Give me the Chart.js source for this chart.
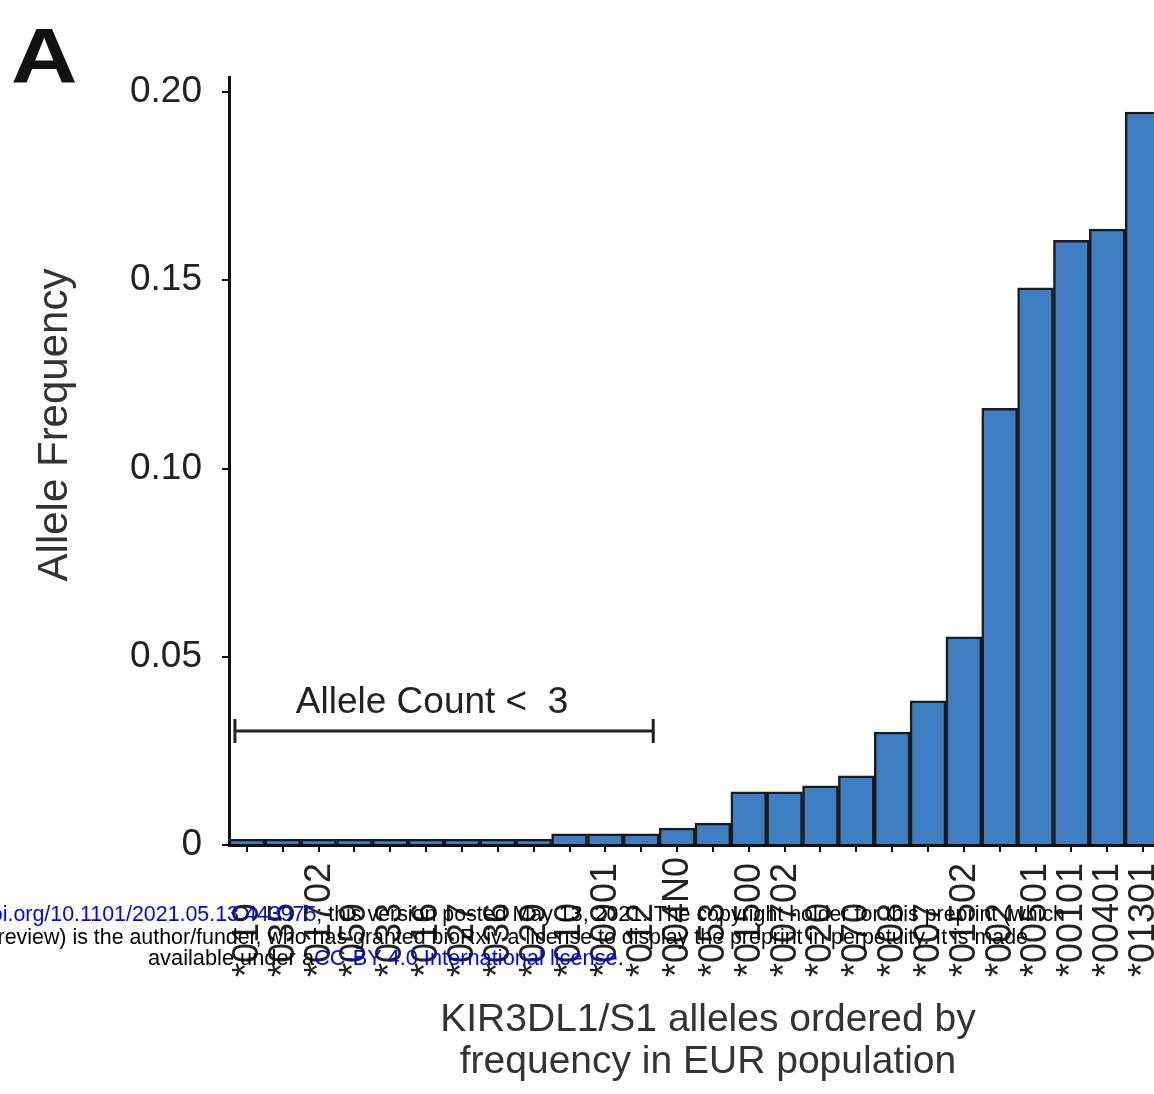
<!DOCTYPE html>
<html><head><meta charset="utf-8">
<script src="https://cdn.jsdelivr.net/npm/chart.js@4.4.1/dist/chart.umd.min.js"></script>
<style>
html,body{margin:0;padding:0;background:#fff;}
#wrap{position:relative;width:1154px;height:1094px;overflow:hidden;background:#fff;}
#c{position:absolute;left:0;top:0;}
.wm{position:absolute;white-space:nowrap;font-family:"Liberation Sans",Arial,sans-serif;font-size:21.4px;line-height:22px;color:#000;}
.wm .b{color:#0000ff;}
</style></head>
<body>
<div id="wrap">
<canvas id="c" width="1164" height="1094"></canvas>
<div class="wm" style="right:89px;top:902.5px">bioRxiv preprint doi: <span class="b">https://doi.org/10.1101/2021.05.13.443975</span>; this version posted May 13, 2021. The copyright holder for this preprint (which</div>
<div class="wm" style="right:126px;top:925.5px">was not certified by peer review) is the author/funder, who has granted bioRxiv a license to display the preprint in perpetuity. It is made</div>
<div class="wm" style="left:148px;top:946.5px;font-size:21.8px">available under a<span class="b">CC-BY 4.0 International license</span>.</div>
</div>
<script>
// ---- data ----
const alleleLabels = ["*019","*035","*01702","*059","*033","*016","*027","*036","*029",
  "*010","*00901","*012","*004N0","*053","*01500","*00702","*020","*070","*008",
  "*007","*01502","*002","*00501","*00101","*00401","*01301"];
const alleleFrequency = [0.0015,0.0015,0.0015,0.0015,0.0015,0.0015,0.0015,0.0015,0.0015,
  0.003,0.003,0.003,0.0045,0.0058,0.0141,0.0141,0.0157,0.0184,0.030,
  0.0383,0.0553,0.116,0.148,0.1606,0.1636,0.1947];
const yTickLabels = ["0","0.05","0.10","0.15","0.20"];
const yTickValues = [0,0.05,0.10,0.15,0.20];
const yAxisMax = 0.204;
const bracketFrom = 0, bracketTo = 11, bracketLevel = 0.0303, bracketTextLevel = 0.0378;
const bracketText = "Allele Count <  3";
const panelLetter = "A";
const yTitle = "Allele Frequency";
const xTitleLines = ["KIR3DL1/S1 alleles ordered by", "frequency in EUR population"];

const FONT = '"Liberation Sans", Arial, Helvetica, sans-serif';

const extras = {
  id: 'extras',
  afterDraw(chart) {
    const {ctx, scales: {x, y}} = chart;
    ctx.save();
    // x tick labels, anchored at their start (bottom), reading upwards
    ctx.fillStyle = '#222';
    ctx.font = `36px ${FONT}`;
    ctx.textAlign = 'left';
    ctx.textBaseline = 'middle';
    alleleLabels.forEach((lab, i) => {
      const px = x.getPixelForValue(i);
      ctx.save();
      ctx.translate(px + 1, 977);
      ctx.rotate(-Math.PI / 2);
      ctx.fillText(lab, 0, 0);
      ctx.restore();
    });
    // bracket
    const yb = y.getPixelForValue(bracketLevel);
    const x0 = x.getPixelForValue(bracketFrom) - 12;
    const x1 = x.getPixelForValue(bracketTo) + 12;
    ctx.strokeStyle = '#222';
    ctx.lineWidth = 3;
    ctx.beginPath();
    ctx.moveTo(x0, yb); ctx.lineTo(x1, yb);
    ctx.moveTo(x0, yb - 12); ctx.lineTo(x0, yb + 12);
    ctx.moveTo(x1, yb - 12); ctx.lineTo(x1, yb + 12);
    ctx.stroke();
    ctx.font = `37px ${FONT}`;
    ctx.textAlign = 'center';
    ctx.textBaseline = 'middle';
    ctx.fillStyle = '#222';
    ctx.fillText(bracketText, (x0 + x1) / 2 - 12, y.getPixelForValue(bracketTextLevel));
    // y title
    ctx.save();
    ctx.translate(55, 425);
    ctx.rotate(-Math.PI / 2);
    ctx.font = `42px ${FONT}`;
    ctx.fillStyle = '#333';
    ctx.fillText(yTitle, 0, 0);
    ctx.restore();
    // x title
    ctx.font = `39px ${FONT}`;
    ctx.fillStyle = '#333';
    ctx.fillText(xTitleLines[0], 708, 1020);
    ctx.fillText(xTitleLines[1], 708, 1062);
    // panel letter
    ctx.save();
    ctx.translate(11, 83);
    ctx.scale(1.18, 1);
    ctx.font = `bold 78px ${FONT}`;
    ctx.fillStyle = '#111';
    ctx.textAlign = 'left';
    ctx.textBaseline = 'alphabetic';
    ctx.fillText(panelLetter, 0, 0);
    ctx.restore();
    ctx.restore();
  }
};

new Chart(document.getElementById('c'), {
  type: 'bar',
  data: {
    labels: alleleLabels,
    datasets: [{
      data: alleleFrequency,
      backgroundColor: '#3e7ec2',
      borderColor: '#1a1a1a',
      borderWidth: 2.5,
      barPercentage: 1,
      categoryPercentage: 1
    }]
  },
  options: {
    responsive: false,
    animation: false,
    layout: {padding: {top: 77, right: 3, bottom: 0, left: 0}},
    plugins: {legend: {display: false}, tooltip: {enabled: false}},
    scales: {
      x: {
        offset: true,
        afterFit(s) { s.height = 249; },
        border: {display: true, color: '#111', width: 3},
        grid: {display: true, offset: false, drawOnChartArea: false, drawTicks: true, tickLength: 7, color: '#111', lineWidth: 2},
        ticks: {display: false}
      },
      y: {
        min: 0,
        max: yAxisMax,
        afterFit(s) { s.width = 229; },
        afterBuildTicks(s) { s.ticks = yTickValues.map(v => ({value: v})); },
        border: {display: true, color: '#111', width: 3},
        grid: {display: true, drawOnChartArea: false, drawTicks: true, tickLength: 7, color: '#111', lineWidth: 2},
        ticks: {
          padding: 20,
          color: '#222',
          font: {family: FONT, size: 37},
          callback: (v, i) => yTickLabels[i]
        }
      }
    }
  },
  plugins: [extras]
});
</script>
</body></html>
